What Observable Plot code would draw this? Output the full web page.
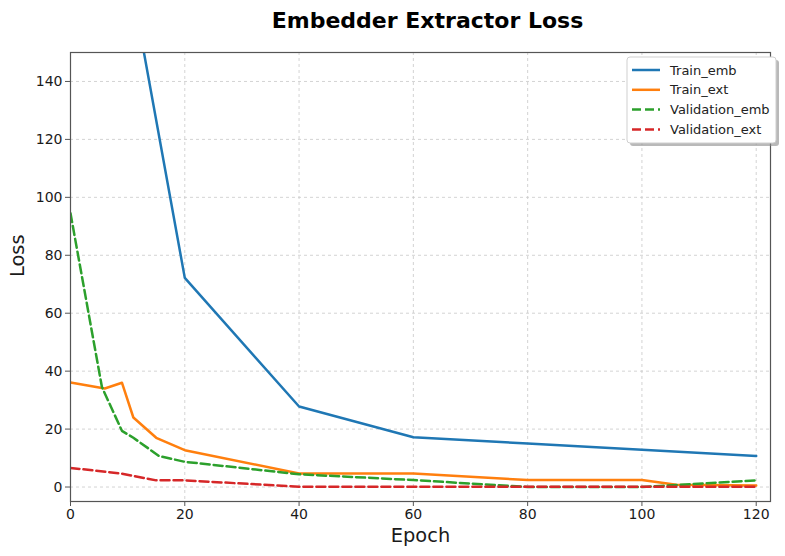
<!DOCTYPE html>
<html>
<head>
<meta charset="utf-8">
<script src="https://cdn.jsdelivr.net/npm/d3@7"></script>
<script src="https://cdn.jsdelivr.net/npm/@observablehq/plot@0.6"></script>
<style>
  body { margin: 0; background: #fff; font-family: "DejaVu Sans", sans-serif; }
  #title { margin-left: 70px; width: 715px; height: 40px; line-height: 41px; text-align: center;
           font-size: 22px; font-weight: bold; color: #000; }
  #chart svg { display: block; }
</style>
</head>
<body>
<div id="title">Embedder Extractor Loss</div>
<div id="chart"></div>
<script>
// Series
const trainEmbEpochs = [0, 10, 20, 40, 60, 80, 100, 120];
const trainEmbLoss   = [290, 181, 72.2, 27.8, 17.2, 15.0, 12.9, 10.7];

const trainExtEpochs = [0, 6, 9, 11, 15, 20, 40, 60, 80, 100, 106, 120];
const trainExtLoss   = [36.1, 34.0, 36.0, 24.0, 17.0, 12.7, 4.7, 4.7, 2.4, 2.4, 0.8, 0.5];

const valEmbEpochs = [0, 5.5, 9, 11, 15.5, 20, 40, 60, 80, 100, 120];
const valEmbLoss   = [94.5, 34.5, 19.4, 17.0, 10.7, 8.7, 4.4, 2.4, 0.0, 0.0, 2.3];

const valExtEpochs = [0, 9, 15, 20, 40, 60, 80, 100, 120];
const valExtLoss   = [6.6, 4.6, 2.3, 2.3, 0.1, 0.1, 0.1, 0.1, 0.1];

const seriesNames  = ["Train_emb", "Train_ext", "Validation_emb", "Validation_ext"];
const seriesColors = ["#1f77b4", "#ff7f0e", "#2ca02c", "#d62728"];
const seriesDashed = [false, false, true, true];

const xTicks = [0, 20, 40, 60, 80, 100, 120];
const yTicks = [0, 20, 40, 60, 80, 100, 120, 140];

const toRows = (xs, ys) => xs.map((x, i) => ({epoch: x, loss: ys[i]}));
const data = [
  toRows(trainEmbEpochs, trainEmbLoss),
  toRows(trainExtEpochs, trainExtLoss),
  toRows(valEmbEpochs, valEmbLoss),
  toRows(valExtEpochs, valExtLoss)
];

const dash = "9,4";
const font = "DejaVu Sans, sans-serif";

const chart = Plot.plot({
  width: 785,
  height: 516,
  marginTop: 12,
  marginBottom: 55,
  marginLeft: 70,
  marginRight: 15,
  style: {fontFamily: font, background: "#fff", overflow: "visible"},
  x: {domain: [0, 122.5]},
  y: {domain: [-5, 150]},
  marks: [
    Plot.gridX(xTicks, {stroke: "#c8c8c8", strokeOpacity: 1, strokeDasharray: "3,3", strokeWidth: 0.8}),
    Plot.gridY(yTicks, {stroke: "#c8c8c8", strokeOpacity: 1, strokeDasharray: "3,3", strokeWidth: 0.8}),
    ...data.map((rows, i) => Plot.line(rows, {
      x: "epoch", y: "loss",
      stroke: seriesColors[i],
      strokeWidth: 2.5,
      strokeDasharray: seriesDashed[i] ? dash : null,
      clip: true
    })),
    Plot.frame({stroke: "#555", strokeWidth: 1.2}),
    Plot.axisX({ticks: xTicks, tickSize: 5, tickPadding: 3, fontSize: 14, label: null, stroke: "#555", color: "#1a1a1a"}),
    Plot.axisY({ticks: yTicks, tickSize: 5, tickPadding: 3, fontSize: 14, label: null, stroke: "#555", color: "#1a1a1a"}),
    Plot.text(["Epoch"], {frameAnchor: "bottom", lineAnchor: "top", dy: 27, fontSize: 19.4, fill: "#1a1a1a"}),
    Plot.text(["Loss"], {frameAnchor: "left", rotate: -90, dx: -53, fontSize: 19.4, fill: "#1a1a1a"})
  ]
});

// Legend (top right, inside the axes)
const svg = d3.select(chart);
const lg = svg.append("g").attr("font-family", font).attr("text-anchor", "start");
const bx = 627, by = 17, bw = 149, bh = 86;
lg.append("rect").attr("x", bx + 3).attr("y", by + 3).attr("width", bw).attr("height", bh)
  .attr("rx", 3).attr("fill", "#8a8a8a").attr("opacity", 0.6);
lg.append("rect").attr("x", bx).attr("y", by).attr("width", bw).attr("height", bh)
  .attr("rx", 3).attr("fill", "#fff").attr("stroke", "#cfcfcf").attr("stroke-width", 1);
seriesNames.forEach((name, i) => {
  const yy = by + 13 + i * 19.8;
  lg.append("line").attr("x1", bx + 5).attr("x2", bx + 33).attr("y1", yy).attr("y2", yy)
    .attr("stroke", seriesColors[i]).attr("stroke-width", 2.5)
    .attr("stroke-dasharray", seriesDashed[i] ? dash : null);
  lg.append("text").attr("x", bx + 43).attr("y", yy).attr("dy", "0.36em")
    .attr("text-anchor", "start")
    .attr("font-size", 13).attr("fill", "#222").text(name);
});

document.getElementById("chart").appendChild(chart);
</script>
</body>
</html>
